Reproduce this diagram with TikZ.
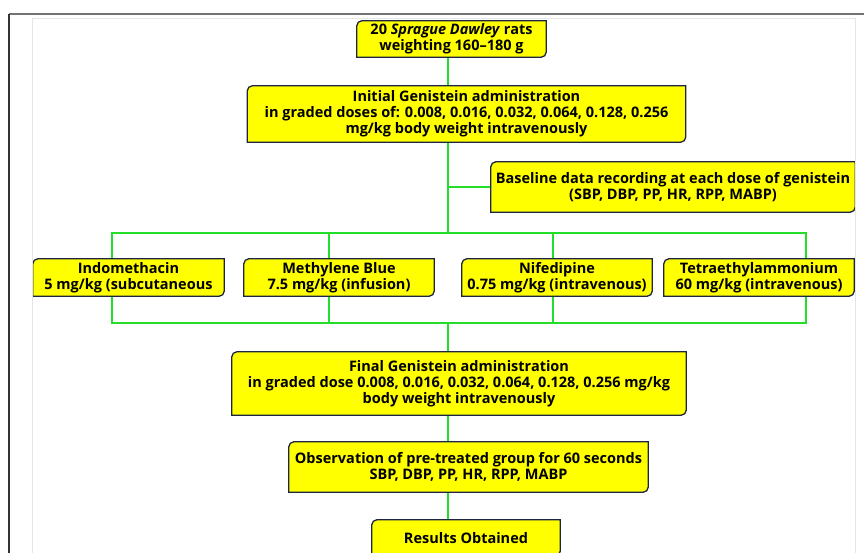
\documentclass[tikz,border=0pt]{standalone}
\usepackage{fontspec}
\setmainfont{Open Sans}
\definecolor{grn}{RGB}{34,222,40}
\definecolor{bord}{RGB}{28,38,68}
\definecolor{ylw}{RGB}{255,255,0}
\pgfdeclarelayer{bg}
\pgfdeclarelayer{mid}
\pgfsetlayers{bg,mid,main}
\tikzset{
  txt/.style={draw=none, fill=none, align=center, inner sep=0pt, font=\bfseries\fontsize{14.5}{16.2}\selectfont},
  boxline/.style={draw=bord, fill=ylw, line width=1.3pt},
  conn/.style={draw=grn, line width=2.4pt}
}
\newcommand{\ybox}[1]{%
  \begin{pgfonlayer}{mid}
  \path[boxline] (#1.south west) -- ([yshift=-5pt]#1.north west)
    arc[start angle=180,end angle=90,radius=5pt] -- (#1.north east)
    -- ([yshift=5pt]#1.south east)
    arc[start angle=0,end angle=-90,radius=5pt] -- cycle;
  \end{pgfonlayer}}
\begin{document}
\begin{tikzpicture}[x=1pt,y=-1pt]
\useasboundingbox (0,0) rectangle (864,553);
% frame
\draw[gray!20, line width=0.6pt] (32,18) -- (855,18) -- (855,553);
\draw[gray!20, line width=0.6pt] (32,18) -- (32,553);
\draw[black!55, line width=1.2pt] (9,14) -- (864,14);
\draw[black!80, line width=1.2pt] (9,14) -- (9,553);

\node[txt, minimum width=189pt, minimum height=36pt] (top) at (451.5,39) {20 \textit{Sprague Dawley} rats\\weighting 160–180 g};
\node[txt, minimum width=438pt, minimum height=56pt] (init) at (466.5,114) {Initial Genistein administration\\in graded doses of: 0.008, 0.016, 0.032, 0.064, 0.128, 0.256\\mg/kg body weight intravenously};
\node[txt, minimum width=364pt, minimum height=50pt] (base) at (673,187) {Baseline data recording at each dose of genistein\\(SBP, DBP, PP, HR, RPP, MABP)};
\node[txt, minimum width=191pt, minimum height=37pt] (ind) at (128.5,277.5) {Indomethacin\\5 mg/kg (subcutaneous};
\node[txt, minimum width=190pt, minimum height=37pt] (mb) at (339,277.5) {Methylene Blue\\7.5 mg/kg (infusion)};
\node[txt, minimum width=190pt, minimum height=37pt] (nif) at (557,277.5) {Nifedipine\\0.75 mg/kg (intravenous)};
\node[txt, minimum width=190pt, minimum height=37pt] (tea) at (759,277.5) {Tetraethylammonium\\60 mg/kg (intravenous)};
\node[txt, minimum width=454pt, minimum height=63pt] (fin) at (459,383.5) {Final Genistein administration\\in graded dose 0.008, 0.016, 0.032, 0.064, 0.128, 0.256 mg/kg\\body weight intravenously};
\node[txt, minimum width=359pt, minimum height=50pt] (obs) at (468.5,467) {Observation of pre-treated group for 60 seconds\\SBP, DBP, PP, HR, RPP, MABP};
\node[txt, minimum width=188pt, minimum height=36pt] (res) at (466,538) {Results Obtained};

\ybox{top}\ybox{init}\ybox{base}\ybox{ind}\ybox{mb}\ybox{nif}\ybox{tea}\ybox{fin}\ybox{obs}\ybox{res}

\coordinate (spine) at (448,0);
\coordinate (busT) at (448,233);
\coordinate (busB) at (448,323);
\coordinate (v1) at (112,233);
\coordinate (v2) at (329,233);
\coordinate (v3) at (553,233);
\coordinate (v4) at (806,233);

\begin{pgfonlayer}{bg}
\draw[conn] (top.south -| spine) -- (init.north -| spine);
\draw[conn] (init.south -| spine) -- (busT);
\draw[conn] (base.west -| spine) -- (base.west);
\draw[conn, line cap=rect] (v1) -- (v4);
\draw[conn, line cap=rect] (v1 |- busB) -- (v4 |- busB);
\draw[conn] (v1) -- (v1 |- busB);
\draw[conn] (v2) -- (v2 |- busB);
\draw[conn] (v3) -- (v3 |- busB);
\draw[conn] (v4) -- (v4 |- busB);
\draw[conn] (busB) -- (fin.north -| spine);
\draw[conn] (fin.south -| spine) -- (obs.north -| spine);
\draw[conn] (obs.south -| spine) -- (res.north -| spine);
\end{pgfonlayer}
\end{tikzpicture}
\end{document}
